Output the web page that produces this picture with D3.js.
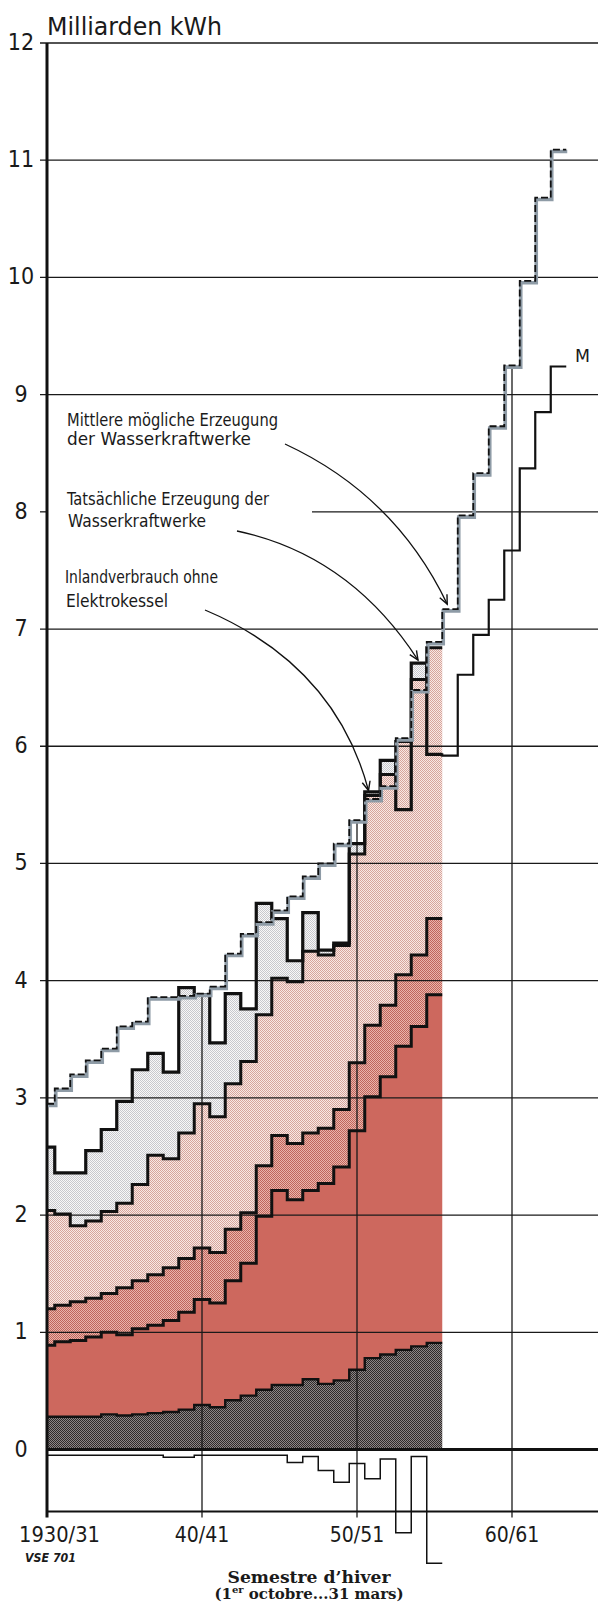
<!DOCTYPE html>
<html><head><meta charset="utf-8">
<script src="https://cdn.jsdelivr.net/npm/d3@7"></script>
<style>html,body{margin:0;padding:0;background:#fff;} svg{display:block;}</style>
</head><body>
<script>
// ---------- data (winter semesters, first = 1930/31) ----------
const startYear = 1930;
const tickYears = [1930, 1940, 1950, 1960];
const tickLabels = ["1930/31", "40/41", "50/51", "60/61"];
const yTickValues = [0,1,2,3,4,5,6,7,8,9,10,11,12];
// cumulative tops of the stacked consumption layers
const layerV = [0.28,0.28,0.28,0.28,0.30,0.29,0.30,0.31,0.32,0.34,0.38,0.36,0.42,0.46,0.51,0.55,0.55,0.60,0.56,0.59,0.68,0.78,0.81,0.85,0.88,0.91];
const layerH = [0.89,0.92,0.93,0.96,1.00,0.98,1.03,1.06,1.10,1.17,1.28,1.25,1.44,1.59,1.99,2.21,2.13,2.21,2.27,2.41,2.72,3.01,3.18,3.44,3.61,3.88];
const layerB = [1.20,1.23,1.26,1.29,1.33,1.38,1.44,1.49,1.55,1.63,1.72,1.68,1.88,2.02,2.42,2.68,2.61,2.70,2.74,2.90,3.30,3.62,3.79,4.05,4.22,4.53];
const layerJ = [2.04,2.01,1.91,1.95,2.03,2.10,2.26,2.51,2.48,2.70,2.95,2.84,3.12,3.31,3.71,4.02,3.99,4.25,4.22,4.30,5.08,5.58,5.76,6.04,6.57,6.84];
// actual hydro production
const production = [2.58,2.36,2.36,2.55,2.73,2.97,3.24,3.38,3.22,3.94,3.88,3.47,3.89,3.76,4.66,4.53,4.17,4.58,4.26,4.32,5.17,5.61,5.88,5.46,6.71,5.93];
// mean possible hydro production (1930/31 ... 1963/64)
const meanPossible = [2.95,3.08,3.20,3.32,3.42,3.61,3.65,3.86,3.86,3.87,3.89,3.95,4.23,4.40,4.50,4.60,4.72,4.89,5.00,5.17,5.37,5.55,5.66,6.07,6.48,6.89,7.17,7.97,8.33,8.73,9.25,9.97,10.68,11.09];
// line M (1955/56 ... 1963/64)
const mStart = 1955;
const lineM = [5.93,5.92,6.61,6.95,7.25,7.67,8.37,8.85,9.24];
// balance below zero
const balance = [-0.05,-0.05,-0.05,-0.05,-0.05,-0.05,-0.05,-0.05,-0.067,-0.067,-0.05,-0.05,-0.05,-0.05,-0.05,-0.05,-0.11,-0.06,-0.18,-0.28,-0.12,-0.25,-0.08,-0.71,-0.06,-0.97];
const bottomValue = -0.53;

// ---------- scales ----------
const W = 598, H = 1602;
const x = d3.scaleLinear().domain([1930, 1960]).range([47, 512]);
const y = d3.scaleLinear().domain([0, 12]).range([1449.5, 43]);
const xMin = 1930;

const svg = d3.select("body").append("svg")
  .attr("width", W).attr("height", H).attr("viewBox", `0 0 ${W} ${H}`);
svg.append("rect").attr("width", W).attr("height", H).attr("fill", "#fff");
const defs = svg.append("defs");
function checker(id, a, b) {
  const p = defs.append("pattern").attr("id", id).attr("width", 2).attr("height", 2)
    .attr("patternUnits", "userSpaceOnUse");
  p.append("rect").attr("width", 2).attr("height", 2).attr("fill", a);
  p.append("rect").attr("width", 1).attr("height", 1).attr("fill", b);
  p.append("rect").attr("x", 1).attr("y", 1).attr("width", 1).attr("height", 1).attr("fill", b);
}
checker("pV", "#8c8686", "#2e2a2a");
checker("pB", "#eab4ab", "#bf665c");
checker("pJ", "#f8e8e4", "#d6a59c");
checker("pX", "#f8f8f8", "#c8c8cd");

const mk = defs.append("marker").attr("id", "arr").attr("viewBox", "-10 -6 12 12")
  .attr("refX", 0).attr("refY", 0).attr("markerWidth", 12).attr("markerHeight", 12)
  .attr("markerUnits", "userSpaceOnUse").attr("orient", "auto");
mk.append("path").attr("d", "M-9,-4 L0,0 L-9,4").attr("fill", "none").attr("stroke", "#111").attr("stroke-width", 1.4);

// ---------- helpers ----------
function stepPts(vals, y0) {
  const pts = [];
  vals.forEach((v, i) => {
    const yr = y0 + i;
    pts.push([Math.max(yr - 0.5, xMin), v]);
    pts.push([yr + 0.5, v]);
  });
  return pts;
}
function bandPts(lo, hi, y0) {
  const pts = [];
  lo.forEach((l, i) => {
    const yr = y0 + i;
    pts.push({t: Math.max(yr - 0.5, xMin), lo: l, hi: hi[i]});
    pts.push({t: yr + 0.5, lo: l, hi: hi[i]});
  });
  return pts;
}
const line = d3.line().x(d => x(d[0])).y(d => y(d[1]));
const area = d3.area().x(d => x(d.t)).y0(d => y(d.lo)).y1(d => y(d.hi));
const zeros = layerV.map(() => 0);

// ---------- fills ----------
const gFill = svg.append("g");
gFill.append("path").attr("d", area(bandPts(layerJ, production.map((p, i) => Math.max(p, layerJ[i])), startYear))).attr("fill", "url(#pX)");
gFill.append("path").attr("d", area(bandPts(layerB, layerJ, startYear))).attr("fill", "url(#pJ)");
gFill.append("path").attr("d", area(bandPts(layerH, layerB, startYear))).attr("fill", "url(#pB)");
gFill.append("path").attr("d", area(bandPts(layerV, layerH, startYear))).attr("fill", "#cd685e");
gFill.append("path").attr("d", area(bandPts(zeros, layerV, startYear))).attr("fill", "url(#pV)");

// ---------- grid ----------
const gGrid = svg.append("g").attr("stroke", "#1a1a1a").attr("stroke-width", 1.3);
yTickValues.filter(v => v > 0).forEach(v => {
  if (v === 8) {
    gGrid.append("line").attr("x1", 40).attr("x2", 48).attr("y1", y(v)).attr("y2", y(v));
    gGrid.append("line").attr("x1", 312).attr("x2", W).attr("y1", y(v)).attr("y2", y(v));
  } else {
    gGrid.append("line").attr("x1", 40).attr("x2", W).attr("y1", y(v)).attr("y2", y(v));
  }
});
tickYears.filter(t => t > 1930).forEach(t => {
  const top = meanPossible[t - startYear];
  gGrid.append("line").attr("x1", x(t)).attr("x2", x(t)).attr("y1", y(top)).attr("y2", y(bottomValue) + 6);
});
// axes
svg.append("line").attr("x1", x(1930)).attr("x2", W).attr("y1", y(0)).attr("y2", y(0)).attr("stroke", "#111").attr("stroke-width", 3);
svg.append("line").attr("x1", x(1930)).attr("x2", W).attr("y1", y(bottomValue)).attr("y2", y(bottomValue)).attr("stroke", "#111").attr("stroke-width", 2);
svg.append("line").attr("x1", x(1930)).attr("x2", x(1930)).attr("y1", y(12)).attr("y2", y(bottomValue) + 6).attr("stroke", "#111").attr("stroke-width", 3);

// ---------- step lines ----------
function drawStep(vals, y0, w, col) {
  return svg.append("path").attr("d", line(stepPts(vals, y0))).attr("fill", "none")
    .attr("stroke", col || "#111").attr("stroke-width", w).attr("stroke-linejoin", "miter").attr("stroke-miterlimit", 4);
}
drawStep(layerV, startYear, 2.4);
drawStep(layerH, startYear, 3);
drawStep(layerB, startYear, 3);
drawStep(layerJ, startYear, 3);
drawStep(production, startYear, 3.2);
drawStep(balance, startYear, 1.5);
drawStep(lineM, mStart, 2.2);
// mean possible production: grey band + black dashes
drawStep(meanPossible, startYear, 3.6, "#8e9ba6").attr("transform", "translate(1,1.8)");
drawStep(meanPossible, startYear, 1.8).attr("stroke-dasharray", "7,3");

// ---------- texts ----------
const sans = "'DejaVu Sans Condensed','Liberation Sans Narrow','DejaVu Sans',sans-serif";
svg.append("text").attr("x", 47).attr("y", 35).attr("font-family", sans).attr("font-size", 25)
  .attr("textLength", 175).attr("lengthAdjust", "spacingAndGlyphs").attr("fill", "#1a1a1a").text("Milliarden kWh");
yTickValues.forEach(v => {
  svg.append("text").attr("x", 21).attr("y", y(v) + 7).attr("text-anchor", "middle")
    .attr("font-family", sans).attr("font-size", 23).attr("fill", "#1a1a1a").text(v);
});
tickYears.forEach((t, i) => {
  const tx = svg.append("text").attr("y", 1542).attr("font-family", sans).attr("font-size", 21).attr("fill", "#1a1a1a").text(tickLabels[i]);
  if (i === 0) tx.attr("x", 19).attr("textLength", 81).attr("lengthAdjust", "spacingAndGlyphs");
  else tx.attr("x", x(t)).attr("text-anchor", "middle");
});
svg.append("text").attr("x", 25).attr("y", 1562).attr("font-family", "'DejaVu Sans',sans-serif").attr("font-weight", "bold")
  .attr("font-style", "italic").attr("font-size", 12).attr("textLength", 51).attr("lengthAdjust", "spacingAndGlyphs")
  .attr("fill", "#1a1a1a").text("VSE 701");
svg.append("text").attr("x", 309).attr("y", 1583).attr("text-anchor", "middle").attr("font-family", "'DejaVu Serif',serif")
  .attr("font-weight", "bold").attr("font-size", 16).attr("textLength", 163).attr("lengthAdjust", "spacingAndGlyphs")
  .attr("fill", "#1a1a1a").text("Semestre d\u2019hiver");
const sub = svg.append("text").attr("x", 309).attr("y", 1599).attr("text-anchor", "middle").attr("font-family", "'DejaVu Serif',serif")
  .attr("font-weight", "bold").attr("font-size", 15).attr("fill", "#1a1a1a");
sub.append("tspan").text("(1");
sub.append("tspan").attr("font-size", 10).attr("dy", -6).text("er");
sub.append("tspan").attr("dy", 6).text(" octobre...31 mars)");

const notes = [
  {t: "Mittlere m\u00f6gliche Erzeugung", x: 67, y: 426, w: 211},
  {t: "der Wasserkraftwerke", x: 67, y: 445, w: 184},
  {t: "Tats\u00e4chliche Erzeugung der", x: 67, y: 505, w: 202},
  {t: "Wasserkraftwerke", x: 68, y: 527, w: 138},
  {t: "Inlandverbrauch ohne", x: 65, y: 583, w: 153},
  {t: "Elektrokessel", x: 66, y: 607, w: 102}
];
notes.forEach(n => svg.append("text").attr("x", n.x).attr("y", n.y).attr("font-family", sans).attr("font-size", 17)
  .attr("textLength", n.w).attr("lengthAdjust", "spacingAndGlyphs").attr("fill", "#1a1a1a").text(n.t));
svg.append("text").attr("x", 575).attr("y", 362).attr("font-family", sans).attr("font-size", 17)
  .attr("textLength", 15).attr("lengthAdjust", "spacingAndGlyphs").attr("fill", "#1a1a1a").text("M");

// arrows anchored to data points
const arrows = [
  {from: [285, 444], ctrl: [395, 495], to: [x(1955.5) + 5, y(meanPossible[26]) - 5]},
  {from: [237, 531], ctrl: [350, 555], to: [x(1954) - 1, y(production[24]) - 3]},
  {from: [205, 610], ctrl: [335, 665], to: [x(1951) - 4, y(layerJ[21]) - 5]}
];
arrows.forEach(a => svg.append("path")
  .attr("d", `M${a.from[0]},${a.from[1]} Q${a.ctrl[0]},${a.ctrl[1]} ${a.to[0]},${a.to[1]}`)
  .attr("fill", "none").attr("stroke", "#111").attr("stroke-width", 1.3).attr("marker-end", "url(#arr)"));
</script>
</body></html>
